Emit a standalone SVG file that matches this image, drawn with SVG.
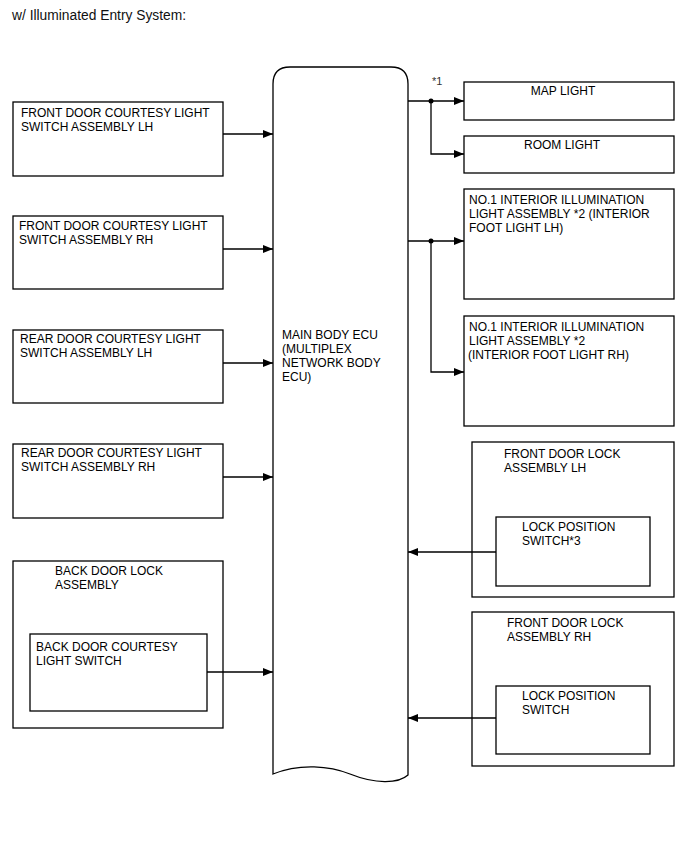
<svg xmlns="http://www.w3.org/2000/svg" width="688" height="852" viewBox="0 0 688 852">
<defs>
<marker id="arr" viewBox="0 0 10 8" refX="10" refY="4" markerWidth="10" markerHeight="8" markerUnits="userSpaceOnUse" orient="auto">
<path d="M0,0 L10,4 L0,8 Z" fill="#000"/>
</marker>
</defs>
<style>
rect{fill:#fff;stroke:#000;stroke-width:1.3}
text{font-family:"Liberation Sans",Arial,sans-serif;font-size:12px;fill:#000}
.c{fill:none;stroke:#000;stroke-width:1.3}
.a{marker-end:url(#arr)}
</style>
<rect x="0" y="0" width="688" height="852" style="stroke:none"/>
<text x="12" y="20" style="font-size:13.8px;fill:#111">w/ Illuminated Entry System:</text>

<g id="ecu">
<path d="M273,774 L273,84 Q273,67 290,67 L391,67 Q408,67 408,84 L408,775 C398,784 375,784 350,774 C330,766 300,763 273,774 Z" fill="#fff" stroke="#000" stroke-width="1.3"/>
<text x="282" y="339">MAIN BODY ECU</text>
<text x="282" y="353">(MULTIPLEX</text>
<text x="282" y="367">NETWORK BODY</text>
<text x="282" y="381">ECU)</text>
</g>

<g id="fdcl-lh">
<rect x="13" y="102" width="210" height="74"/>
<text x="21" y="117">FRONT DOOR COURTESY LIGHT</text>
<text x="21" y="131">SWITCH ASSEMBLY LH</text>
</g>
<g id="fdcl-rh">
<rect x="13" y="216" width="210" height="73"/>
<text x="19" y="230">FRONT DOOR COURTESY LIGHT</text>
<text x="19" y="244">SWITCH ASSEMBLY RH</text>
</g>
<g id="rdcl-lh">
<rect x="13" y="330" width="210" height="73"/>
<text x="20" y="343">REAR DOOR COURTESY LIGHT</text>
<text x="20" y="357">SWITCH ASSEMBLY LH</text>
</g>
<g id="rdcl-rh">
<rect x="13" y="444" width="210" height="74"/>
<text x="21" y="457">REAR DOOR COURTESY LIGHT</text>
<text x="21" y="471">SWITCH ASSEMBLY RH</text>
</g>
<g id="back-door-lock">
<rect x="13" y="561" width="210" height="167"/>
<text x="55" y="575">BACK DOOR LOCK</text>
<text x="55" y="589">ASSEMBLY</text>
<g id="back-door-switch">
<rect x="30" y="634" width="177" height="77"/>
<text x="36" y="651">BACK DOOR COURTESY</text>
<text x="36" y="665">LIGHT SWITCH</text>
</g>
</g>

<g id="map-light">
<rect x="464" y="82" width="210" height="38"/>
<text x="563" y="95" text-anchor="middle">MAP LIGHT</text>
</g>
<g id="room-light">
<rect x="464" y="136" width="210" height="37"/>
<text x="562" y="149" text-anchor="middle">ROOM LIGHT</text>
</g>
<g id="foot-lh">
<rect x="464" y="189" width="210" height="110"/>
<text x="469" y="204">NO.1 INTERIOR ILLUMINATION</text>
<text x="469" y="218">LIGHT ASSEMBLY *2 (INTERIOR</text>
<text x="469" y="232">FOOT LIGHT LH)</text>
</g>
<g id="foot-rh">
<rect x="464" y="316" width="210" height="110"/>
<text x="469" y="331">NO.1 INTERIOR ILLUMINATION</text>
<text x="469" y="345">LIGHT ASSEMBLY *2</text>
<text x="468" y="359">(INTERIOR FOOT LIGHT RH)</text>
</g>
<g id="fdl-lh">
<rect x="472" y="442" width="202" height="155"/>
<text x="504" y="458">FRONT DOOR LOCK</text>
<text x="504" y="472">ASSEMBLY LH</text>
<g id="lps-lh">
<rect x="496" y="517" width="154" height="69"/>
<text x="522" y="531">LOCK POSITION</text>
<text x="522" y="545">SWITCH*3</text>
</g>
</g>
<g id="fdl-rh">
<rect x="472" y="612" width="202" height="154"/>
<text x="507" y="627">FRONT DOOR LOCK</text>
<text x="507" y="641">ASSEMBLY RH</text>
<g id="lps-rh">
<rect x="496" y="686" width="154" height="68"/>
<text x="522" y="700">LOCK POSITION</text>
<text x="522" y="714">SWITCH</text>
</g>
</g>

<g id="connectors">
<line class="c a" x1="223" y1="134" x2="273" y2="134"/>
<line class="c a" x1="223" y1="249" x2="273" y2="249"/>
<line class="c a" x1="223" y1="363" x2="273" y2="363"/>
<line class="c a" x1="223" y1="477" x2="273" y2="477"/>
<line class="c a" x1="207" y1="672" x2="273" y2="672"/>
<line class="c a" x1="408" y1="101" x2="464" y2="101"/>
<path class="c a" d="M431,101 L431,154 L464,154"/>
<circle cx="431" cy="101" r="2.5" fill="#000"/>
<text x="432" y="85" style="font-size:11px;fill:#333">*1</text>
<line class="c a" x1="408" y1="241" x2="464" y2="241"/>
<path class="c a" d="M431,241 L431,372 L464,372"/>
<circle cx="431" cy="241" r="2.5" fill="#000"/>
<line class="c a" x1="496" y1="552" x2="408" y2="552"/>
<line class="c a" x1="496" y1="718" x2="408" y2="718"/>
</g>
</svg>
